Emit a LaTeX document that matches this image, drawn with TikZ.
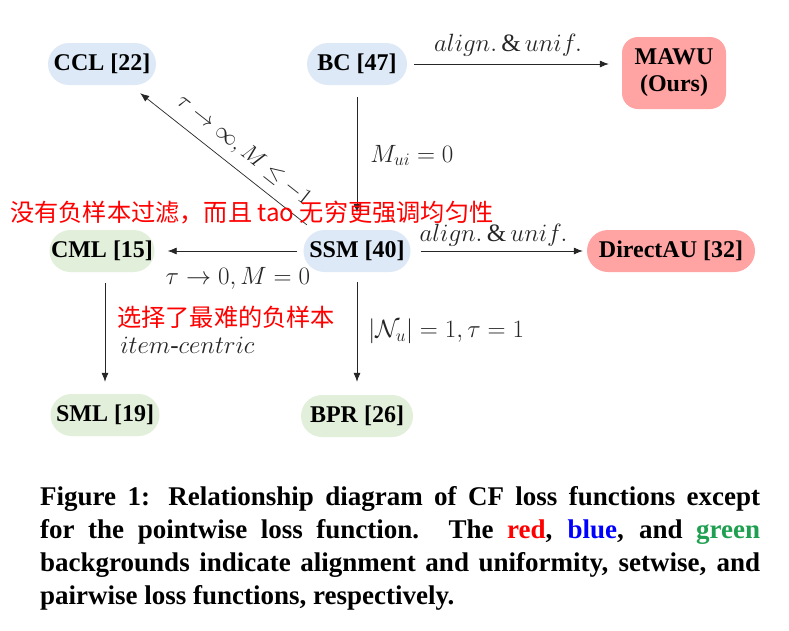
\documentclass[tikz,border=0pt]{standalone}
\usepackage{fix-cm}
\usepackage{amsmath}
\usepackage{fontspec}
\setmainfont{Liberation Serif}
\newfontfamily\cjk{Noto Sans CJK SC}
\usetikzlibrary{arrows.meta}
\definecolor{bfill}{HTML}{DDE9F6}
\definecolor{gfill}{HTML}{E2EFDA}
\definecolor{rfill}{HTML}{FFA3A3}
\definecolor{capgreen}{HTML}{1FA050}
\tikzset{
  box/.style={minimum height=42pt, inner sep=0pt, rounded corners=21pt,
    font=\bfseries\fontsize{24}{27}\selectfont},
  bnode/.style={box, fill=bfill},
  gnode/.style={box, fill=gfill},
  rnode/.style={box, fill=rfill},
  arr/.style={-{Latex[length=9pt,width=7pt]}, line width=0.7pt, black!85},
  lbl/.style={font=\fontsize{25}{28}\selectfont, inner sep=3pt},
  note/.style={font=\cjk\fontsize{24.2}{27}\selectfont, text=red, inner sep=0pt}
}
\begin{document}
\begin{tikzpicture}[x=1pt,y=-1pt]
\path[use as bounding box, fill=white] (0,0) rectangle (789,630);

\node[bnode, minimum width=108pt] (ccl) at (102,64) {CCL [22]};
\node[bnode, minimum width=100pt] (bc) at (357,64) {BC [47]};
\node[rnode, minimum width=104pt, minimum height=72pt, rounded corners=16pt, align=center,
  font=\bfseries\fontsize{24}{27}\selectfont] (mawu) at (674,73) {MAWU\\(Ours)};
\node[gnode, minimum width=105pt] (cml) at (102,251) {CML [15]};
\node[bnode, minimum width=107pt] (ssm) at (357,251) {SSM [40]};
\node[rnode, minimum width=168pt] (dau) at (671,251) {DirectAU [32]};
\node[gnode, minimum width=109pt] (sml) at (105,415) {SML [19]};
\node[gnode, minimum width=112pt] (bpr) at (357,416) {BPR [26]};

% BC -> MAWU
\draw[arr, shorten <=7pt, shorten >=13pt] (bc.east) --
  node[lbl, above, pos=0.47, yshift=4pt] {$align.\,\&\,unif.$} (bc.east -| mawu.west);
% BC -> SSM
\draw[arr, shorten <=12pt, shorten >=17pt] (bc.south) --
  node[lbl, right, xshift=10pt, yshift=2pt] {$M_{ui}=0$} (ssm.north);
% SSM -> CCL
\draw[{Latex[length=9pt,width=7pt]}-, line width=0.7pt, black!85]
  ([shift={(-16pt,-8pt)}]ccl.south east) --
  node[sloped, above, pos=0.55, inner sep=9pt, font=\fontsize{23}{26}\selectfont]
    {$\tau\rightarrow\infty, M\leq -1$}
  ([shift={(3.5pt,5pt)}]ssm.north west);
% SSM -> CML
\draw[arr, shorten <=6pt, shorten >=13pt] (ssm.west) --
  node[lbl, pos=0.44, anchor=center, yshift=-27pt] {$\tau\rightarrow 0, M=0$} (cml.east);
% SSM -> DirectAU
\draw[arr, shorten <=10pt, shorten >=4pt] (ssm.east) --
  node[lbl, above, pos=0.47, yshift=1pt] {$align.\,\&\,unif.$} (dau.west);
% CML -> SML
\draw[arr, shorten <=11pt, shorten >=12pt] (sml.north |- cml.south) --
  node[lbl, right, pos=0.6, xshift=12pt] {$item\text{-}centric$} (sml.north);
% SSM -> BPR
\draw[arr, shorten <=10pt, shorten >=13pt] (ssm.south) --
  node[lbl, right, pos=0.48, xshift=8pt] {$|\mathcal{N}_u|=1, \tau=1$} (bpr.north);

% red notes
\node[note, anchor=west] (n1) at (10,213) {没有负样本过滤，而且 tao 无穷更强调均匀性};
\node[note, anchor=west] (n2) at (117,317) {选择了最难的负样本};

% caption
\node[anchor=north west, inner sep=0pt, text width=720pt,
  font=\bfseries\fontsize{27}{33}\selectfont, align=justify] (cap) at (40,486)
{Figure 1: Relationship diagram of CF loss functions except\linebreak
for the pointwise loss function. The \textcolor{red}{red}, \textcolor{blue}{blue}, and \textcolor{capgreen}{green}\linebreak
backgrounds indicate alignment and uniformity, setwise, and\linebreak
pairwise loss functions, respectively.};
\end{tikzpicture}
\end{document}
